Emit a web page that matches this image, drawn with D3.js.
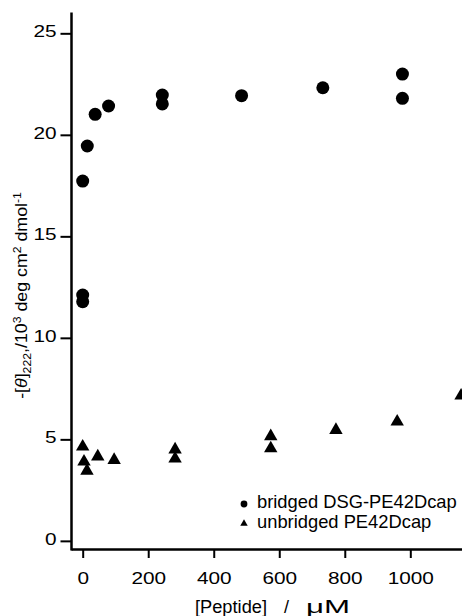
<!DOCTYPE html>
<html><head><meta charset="utf-8">
<script src="https://cdn.jsdelivr.net/npm/d3@7"></script>
<style>
body{margin:0;background:#fff}
svg{display:block;background:#fff}
text{font-family:"Liberation Sans",Arial,Helvetica,sans-serif;fill:#000}
</style>
</head><body>
<svg id="c" width="462" height="616"></svg>
<script>
// ---- data ----
const bridgedX = [0, 0, 0, 14, 38, 79, 243, 243, 485, 733, 976, 976];
const bridgedY = [11.78, 12.11, 17.72, 19.45, 21.01, 21.42, 21.52, 21.96, 21.93, 22.32, 21.80, 22.99];
const unbridgedX = [0, 4, 13, 46, 96, 282, 282, 574, 574, 773, 960, 1155];
const unbridgedY = [4.64, 3.90, 3.45, 4.15, 3.98, 4.50, 4.05, 5.15, 4.55, 5.46, 5.87, 7.15];
const xTicks = [0, 200, 400, 600, 800, 1000];
const yTicks = [0, 5, 10, 15, 20, 25];
const seriesNames = ["bridged DSG-PE42Dcap", "unbridged PE42Dcap"];
const xDomain = [-35.7, 1157.8];
const yDomain = [-0.45, 26.05];

const svg = d3.select("#c");
const x = d3.scaleLinear().domain(xDomain).range([71, 462]);
const y = d3.scaleLinear().domain(yDomain).range([550, 12]);
const FONT = '"Liberation Sans",Arial,Helvetica,sans-serif';
const SX = 1.3;

// x axis
const gx = svg.append("g").attr("transform", "translate(0,549)")
  .call(d3.axisBottom(x).tickValues(xTicks).tickSize(9).tickSizeOuter(0).tickPadding(14.6).tickFormat(d3.format("d")));
gx.attr("font-size", 16).attr("font-family", FONT);
gx.select(".domain").attr("stroke", "#000").attr("stroke-width", 2.5);
gx.selectAll(".tick line").attr("stroke", "#000").attr("stroke-width", 2);
gx.selectAll(".tick text").attr("fill", "#000").attr("transform", `scale(${SX},1)`);

// y axis
const gy = svg.append("g").attr("transform", "translate(71,0)")
  .call(d3.axisLeft(y).tickValues(yTicks).tickSize(10.5).tickSizeOuter(0).tickPadding(4).tickFormat(d3.format("d")));
gy.attr("font-size", 16).attr("font-family", FONT);
gy.select(".domain").attr("stroke", "#000").attr("stroke-width", 2.5);
gy.selectAll(".tick line").attr("stroke", "#000").attr("stroke-width", 2);
gy.selectAll(".tick text").attr("fill", "#000").attr("x", -14.5 / SX).attr("dy", "0.22em").attr("transform", `scale(${SX},1)`);

// points
const bridged = bridgedX.map((v, i) => ({x: v, y: bridgedY[i]}));
const unbridged = unbridgedX.map((v, i) => ({x: v, y: unbridgedY[i]}));
svg.append("g").selectAll("circle").data(bridged).join("circle")
  .attr("cx", d => x(d.x)).attr("cy", d => y(d.y)).attr("r", 6.5).attr("fill", "#000");
const tri = d3.symbol(d3.symbolTriangle, 78);
svg.append("g").selectAll("path").data(unbridged).join("path")
  .attr("transform", d => `translate(${x(d.x)},${y(d.y)})`).attr("d", tri).attr("fill", "#000");

// legend
const lg = svg.append("g");
lg.append("circle").attr("cx", 244).attr("cy", 504).attr("r", 3.4).attr("fill", "#000");
lg.append("path").attr("transform", "translate(244,523.5)").attr("d", d3.symbol(d3.symbolTriangle, 24)).attr("fill", "#000");
const lt = [];
seriesNames.forEach((name, i) => {
  lt.push(lg.append("text").attr("x", 257).attr("y", 508.5 + i * 19.5).attr("font-size", 18).text(name));
});
const lw = lt[0].node().getComputedTextLength();
const lk = 200 / lw;
lt.forEach(t => t.attr("transform", `translate(257,0) scale(${lk},1) translate(-257,0)`));

// x title
const xt = svg.append("text").attr("y", 613).attr("font-size", 18);
xt.append("tspan").attr("x", 195).attr("textLength", 72).attr("lengthAdjust", "spacingAndGlyphs").text("[Peptide]");
xt.append("tspan").attr("x", 284).text("/");
xt.append("tspan").attr("x", 306).attr("textLength", 44).attr("lengthAdjust", "spacingAndGlyphs").text("\u03bcM");

// y title (rotated)
const yt = svg.append("text").attr("font-size", 16).attr("text-anchor", "middle");
yt.append("tspan").text("-[");
yt.append("tspan").attr("font-style", "italic").text("\u03b8");
yt.append("tspan").text("]");
yt.append("tspan").attr("font-size", 11).attr("dy", 4).text("222");
yt.append("tspan").attr("dy", -4).text(",/10");
yt.append("tspan").attr("font-size", 11).attr("dy", -6).text("3");
yt.append("tspan").attr("dy", 6).text(" deg cm");
yt.append("tspan").attr("font-size", 11).attr("dy", -6).text("2");
yt.append("tspan").attr("dy", 6).text(" dmol");
yt.append("tspan").attr("font-size", 11).attr("dy", -6).text("-1");
const len = yt.node().getComputedTextLength();
const k = 207 / len;
yt.attr("transform", `translate(27,295.5) rotate(-90) scale(${k},1)`);
</script>
</body></html>
